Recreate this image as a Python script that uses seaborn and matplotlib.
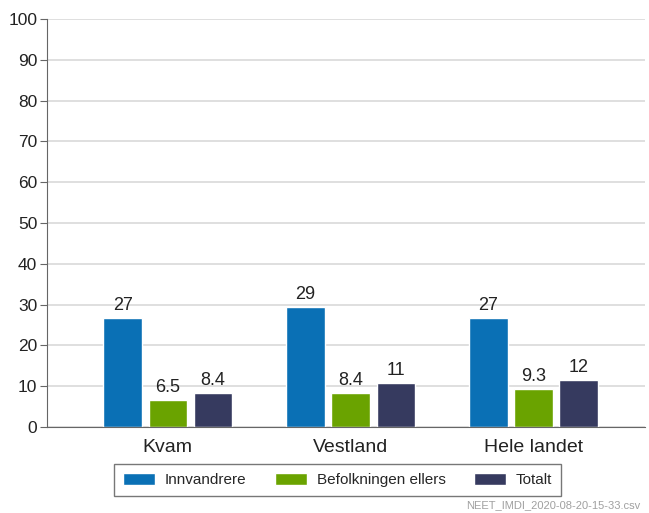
import pandas as pd
import matplotlib
matplotlib.use("Agg")
import matplotlib.pyplot as plt
import seaborn as sns

# data
omraader = ["Kvam", "Vestland", "Hele landet"]
grupper = ["Innvandrere", "Befolkningen ellers", "Totalt"]
innvandrere = [26.6, 29.3, 26.6]
befolkningen_ellers = [6.5, 8.4, 9.3]
totalt = [8.4, 10.7, 11.5]
etiketter = [["27", "29", "27"], ["6.5", "8.4", "9.3"], ["8.4", "11", "12"]]
farger = ["#0a70b5", "#6aa300", "#363a5f"]

rows = []
for g, vals in zip(grupper, [innvandrere, befolkningen_ellers, totalt]):
    for o, v in zip(omraader, vals):
        rows.append({"omraade": o, "gruppe": g, "verdi": v})
df = pd.DataFrame(rows)

sns.set_style("white")
plt.rcParams["font.family"] = ["Liberation Sans", "DejaVu Sans"]

fig = plt.figure(figsize=(6.49, 5.13), dpi=100)
ax = fig.add_axes([0.0724, 0.1676, 0.9216, 0.7954])

sns.barplot(data=df, x="omraade", y="verdi", hue="gruppe", order=omraader,
            hue_order=grupper, palette=farger, width=0.74, gap=0.15,
            saturation=1, ax=ax, legend=True)

for cont, labs in zip(ax.containers, etiketter):
    ax.bar_label(cont, labels=labs, padding=3, fontsize=13, color="#222222")

ax.set_ylim(0, 100)
ax.set_xlim(-0.66, 2.61)
ax.set_yticks(range(0, 101, 10))
ax.yaxis.grid(True, color="#d9d9d9", linewidth=1.2)
ax.set_axisbelow(True)
ax.set_xlabel("")
ax.set_ylabel("")
for s in ["top", "right"]:
    ax.spines[s].set_visible(False)
ax.spines["left"].set_color("#666666")
ax.spines["bottom"].set_color("#666666")
ax.tick_params(axis="y", left=True, length=5, color="#666666", labelsize=12.5,
               labelcolor="#222222", pad=2)
ax.tick_params(axis="x", bottom=False, labelsize=14, labelcolor="#222222", pad=5)

handles, labels = ax.get_legend_handles_labels()
ax.legend_.remove()
leg = fig.legend(handles, labels, loc="center", bbox_to_anchor=(0.52, 0.0645),
                 ncol=3, frameon=True, fancybox=False, edgecolor="#555555",
                 fontsize=11, handlelength=2.1, handleheight=0.9,
                 columnspacing=1.85, handletextpad=0.65, borderpad=0.55)
leg.get_frame().set_linewidth(1.0)

fig.text(0.987, 0.005, "NEET_IMDI_2020-08-20-15-33.csv", ha="right", va="bottom",
         fontsize=8, color="#a0a0a0")

fig.savefig("out.png", dpi=100)
